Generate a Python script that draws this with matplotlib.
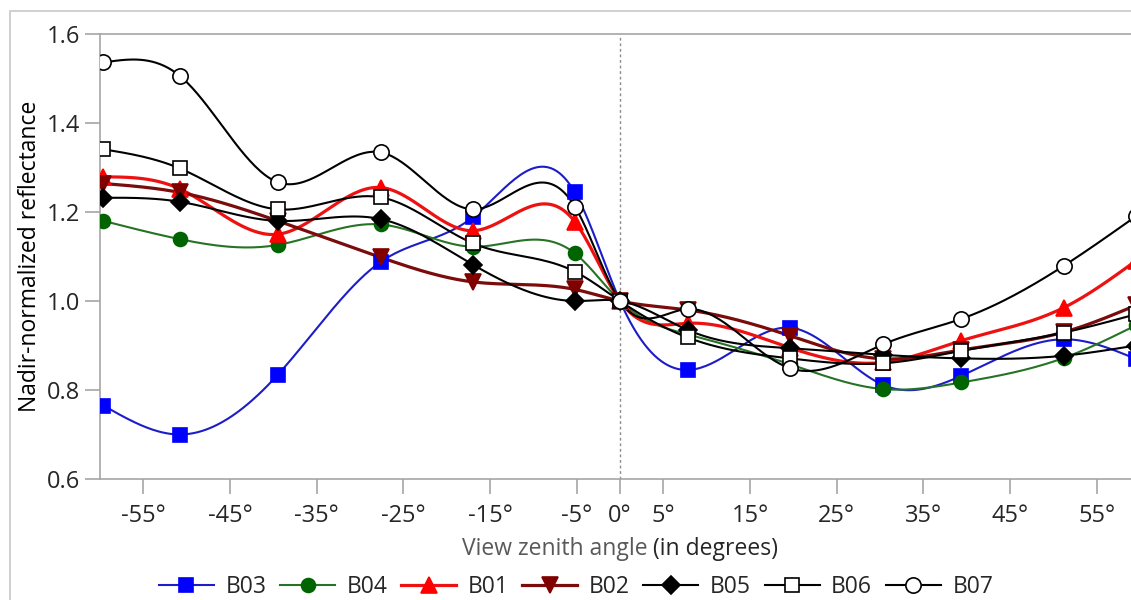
import numpy as np
import matplotlib
matplotlib.use("Agg")
import matplotlib.pyplot as plt
from matplotlib.patches import Rectangle

# ------------------ Data ------------------
angles = [-59.6, -50.8, -39.5, -27.6, -17.0, -5.2, 0.0, 7.8, 19.6, 30.4, 39.4, 51.2, 59.5]

b03 = [0.765, 0.700, 0.834, 1.088, 1.188, 1.244, 1.000, 0.845, 0.940, 0.811, 0.832, 0.914, 0.870]
b04 = [1.180, 1.139, 1.126, 1.172, 1.122, 1.107, 1.000, 0.925, 0.858, 0.802, 0.817, 0.872, 0.945]
b01 = [1.279, 1.252, 1.150, 1.255, 1.158, 1.178, 1.000, 0.950, 0.895, 0.862, 0.911, 0.985, 1.090]
b02 = [1.264, 1.244, 1.180, 1.098, 1.043, 1.026, 1.000, 0.980, 0.922, 0.870, 0.890, 0.930, 0.990]
b05 = [1.232, 1.223, 1.180, 1.184, 1.082, 1.000, 1.000, 0.935, 0.894, 0.879, 0.871, 0.877, 0.900]
b06 = [1.341, 1.298, 1.206, 1.233, 1.130, 1.066, 1.000, 0.918, 0.871, 0.860, 0.888, 0.929, 0.970]
b07 = [1.536, 1.506, 1.267, 1.334, 1.206, 1.212, 1.000, 0.982, 0.849, 0.903, 0.960, 1.079, 1.190]

series_names = ["B03", "B04", "B01", "B02", "B05", "B06", "B07"]
x_ticks = [-55, -45, -35, -25, -15, -5, 0, 5, 15, 25, 35, 45, 55]
x_ticklabels = [f"{t}°" for t in x_ticks]
y_ticks = [0.6, 0.8, 1.0, 1.2, 1.4, 1.6]


# natural cubic spline through the points (smoothed connecting line)
def spline(x, y, per_seg=40):
    x = np.asarray(x, float)
    y = np.asarray(y, float)
    n = len(x)
    h = np.diff(x)
    A = np.zeros((n, n))
    r = np.zeros(n)
    A[0, 0] = A[-1, -1] = 1
    for i in range(1, n - 1):
        A[i, i - 1] = h[i - 1]
        A[i, i] = 2 * (h[i - 1] + h[i])
        A[i, i + 1] = h[i]
        r[i] = 6 * ((y[i + 1] - y[i]) / h[i] - (y[i] - y[i - 1]) / h[i - 1])
    M = np.linalg.solve(A, r)
    xs, ys = [], []
    for i in range(n - 1):
        t = np.linspace(0, h[i], per_seg)
        a = (M[i + 1] - M[i]) / (6 * h[i])
        b = M[i] / 2
        c = (y[i + 1] - y[i]) / h[i] - h[i] * (2 * M[i] + M[i + 1]) / 6
        xs.append(x[i] + t)
        ys.append(y[i] + c * t + b * t ** 2 + a * t ** 3)
    return np.concatenate(xs), np.concatenate(ys)


plt.rcParams['font.family'] = ['Open Sans', 'DejaVu Sans']

fig = plt.figure(figsize=(11.31, 6), dpi=100)
ax = fig.add_axes([100 / 1131, 1 - 479 / 600, 1040 / 1131, 445 / 600])

# outer chart frame
fig.patches.append(Rectangle((10 / 1131, -0.05), 1.2, 1 - 11 / 600 + 0.05,
                             transform=fig.transFigure, fill=False,
                             edgecolor='#c8c8c8', linewidth=1.2))

styles = [
    # values, line colour, marker, marker face, marker edge, line width, marker size
    (b03, '#1c1cc8', 's', '#0000ff', '#0000ff', 1.5, 9.5),
    (b04, '#267326', 'o', '#006400', '#006400', 1.5, 10),
    (b01, '#ee1111', '^', '#ff0000', '#ff0000', 2.3, 11),
    (b02, '#7a0c0c', 'v', '#800000', '#800000', 2.3, 11),
    (b05, '#000000', 'D', '#000000', '#000000', 1.5, 9),
    (b06, '#000000', 's', 'white', '#000000', 1.5, 10),
    (b07, '#000000', 'o', 'white', '#000000', 1.5, 11),
]

ax.axvline(0, color='#8c8c8c', linestyle=(0, (2, 2)), linewidth=1, zorder=1)

handles = []
for name, (vals, lc, mk, mfc, mec, lw, ms) in zip(series_names, styles):
    sx, sy = spline(angles, vals)
    ax.plot(sx, sy, color=lc, linewidth=lw, zorder=3)
    ax.plot(angles, vals, linestyle='none', marker=mk, markerfacecolor=mfc,
            markeredgecolor=mec, markersize=ms, markeredgewidth=1.2, zorder=4)
    h, = ax.plot([], [], color=lc, linewidth=lw, marker=mk, markerfacecolor=mfc,
                 markeredgecolor=mec, markersize=ms, markeredgewidth=1.2, label=name)
    handles.append(h)

ax.set_xlim(-60, 60)
ax.set_ylim(0.6, 1.6)
ax.set_xticks(x_ticks)
ax.set_xticklabels(x_ticklabels)
ax.set_yticks(y_ticks)
ax.set_yticklabels([f"{v:.1f}" for v in y_ticks])

for side in ['left', 'bottom', 'top']:
    ax.spines[side].set_color('#a6a6a6')
    ax.spines[side].set_linewidth(1.2)
ax.spines['right'].set_visible(False)
ax.tick_params(axis='both', direction='out', length=11, width=1.2, color='#a6a6a6',
               labelsize=17, labelcolor='#262626')
ax.tick_params(axis='x', pad=7)
ax.tick_params(axis='y', pad=3)

ax.set_ylabel("Nadir-normalized reflectance", fontsize=16.5, color='black', labelpad=4)

# x label in two tones, centred under the axes
t1 = ax.text(0.5, -76 / 445, "View zenith angle", transform=ax.transAxes, fontsize=16.5,
             color='#595959', ha='left', va='baseline')
t2 = ax.annotate(" (in degrees)", xy=(1, 0), xycoords=t1, fontsize=16.5, color='#262626',
                 ha='left', va='bottom')
fig.canvas.draw()
rend = fig.canvas.get_renderer()
total = t1.get_window_extent(rend).width + t2.get_window_extent(rend).width
cx = ax.transAxes.transform((0.5, 0))[0]
x0 = ax.transAxes.inverted().transform((cx - total / 2, 0))[0]
t1.set_x(x0)

fig.legend(handles=handles, loc='center', bbox_to_anchor=(576 / 1131, 1 - 587 / 600),
           ncol=7, frameon=False, fontsize=16.5, handlelength=2.4, handletextpad=0.5,
           columnspacing=0.6, labelcolor='#262626')

plt.savefig("out.png", dpi=100)
